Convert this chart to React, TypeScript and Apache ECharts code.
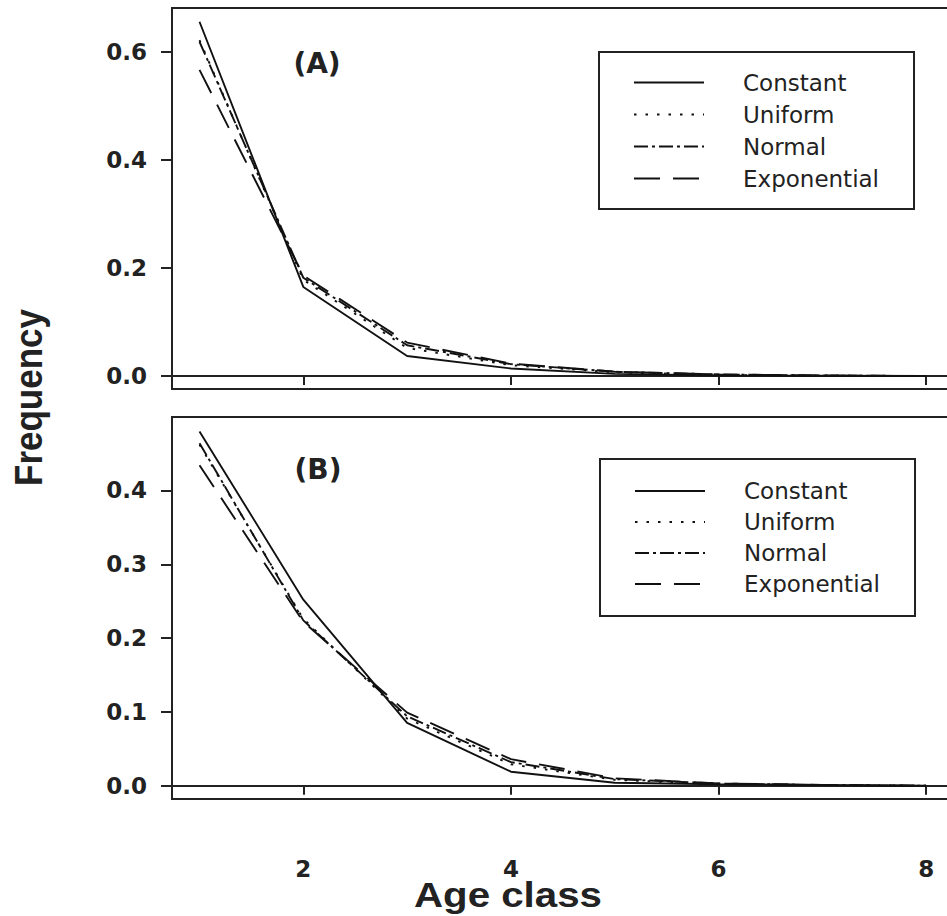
import React, { useEffect, useRef } from "react";
import * as echarts from "echarts";

const ages = [1, 2, 3, 4, 5, 6, 7, 8];
const seriesNames = ["Constant", "Uniform", "Normal", "Exponential"];

// Panel (A)
const aConstant = [0.656, 0.165, 0.037, 0.014, 0.004, 0.001, 0.0005, 0.0];
const aUniform = [0.622, 0.178, 0.052, 0.020, 0.007, 0.002, 0.001, 0.0];
const aNormal = [0.619, 0.182, 0.057, 0.022, 0.008, 0.003, 0.001, 0.0];
const aExponential = [0.567, 0.186, 0.062, 0.023, 0.008, 0.003, 0.001, 0.0];

// Panel (B)
const bConstant = [0.48, 0.252, 0.085, 0.019, 0.004, 0.002, 0.001, 0.0];
const bUniform = [0.462, 0.226, 0.091, 0.029, 0.008, 0.002, 0.001, 0.0];
const bNormal = [0.464, 0.224, 0.094, 0.032, 0.009, 0.003, 0.001, 0.0];
const bExponential = [0.434, 0.222, 0.099, 0.036, 0.010, 0.003, 0.001, 0.0];

const xTicks = [2, 4, 6, 8];
const aYTicks = [0, 0.2, 0.4, 0.6];
const bYTicks = [0, 0.1, 0.2, 0.3, 0.4];

const panelA = [aConstant, aUniform, aNormal, aExponential];
const panelB = [bConstant, bUniform, bNormal, bExponential];

const INK = "#222";
const dashes: any[] = ["solid", [2.5, 9], [14, 4, 3, 4], [26, 13]];

export default function App() {
  const ref = useRef<HTMLDivElement>(null);

  useEffect(() => {
    if (!ref.current) return;
    const chart = echarts.init(ref.current, undefined, { renderer: "svg" });

    const tickFont = {
      fontFamily: "DejaVu Sans",
      fontWeight: "bold" as const,
      fontSize: 23,
      color: INK,
    };

    const makeX = (gridIndex: number, showLabels: boolean) => ({
      type: "value",
      gridIndex,
      min: 0.735,
      max: 8.249,
      axisLine: { show: true, lineStyle: { color: INK, width: 2 } },
      axisTick: {
        show: true,
        length: 9,
        customValues: xTicks,
        lineStyle: { color: INK, width: 2 },
      },
      axisLabel: {
        show: showLabels,
        customValues: xTicks,
        margin: 58,
        verticalAlign: "top",
        lineHeight: 23,
        ...tickFont,
      },
      splitLine: { show: false },
    });

    const makeY = (gridIndex: number, min: number, max: number, ticks: number[]) => ({
      type: "value",
      gridIndex,
      min,
      max,
      axisLine: { show: true, lineStyle: { color: INK, width: 2 } },
      axisTick: {
        show: true,
        length: 11,
        customValues: ticks,
        lineStyle: { color: INK, width: 2 },
      },
      axisLabel: {
        show: true,
        customValues: ticks,
        margin: 25,
        formatter: (v: number) => v.toFixed(1),
        ...tickFont,
      },
      splitLine: { show: false },
    });

    const makeSeries = (panel: number[][], idx: number) =>
      panel.map((vals, i) => ({
        name: seriesNames[i],
        type: "line",
        xAxisIndex: idx,
        yAxisIndex: idx,
        symbol: "none",
        data: ages.map((a, k) => [a, vals[k]]),
        lineStyle: { color: "#111", width: 1.9, type: dashes[i] },
        itemStyle: { color: "#111" },
      }));

    const legendData = seriesNames.map((n, i) => ({
      name: n,
      lineStyle: { color: "#111", width: 2, type: dashes[i] },
    }));

    const makeLegend = (left: number, top: number, gap: number, padV: number) => ({
      orient: "vertical",
      left,
      top,
      data: legendData,
      itemWidth: 70,
      itemHeight: 24,
      itemGap: gap,
      padding: [padV, 35, padV, 34],
      borderColor: INK,
      borderWidth: 2,
      selectedMode: false,
      itemStyle: { opacity: 0 },
      textStyle: {
        fontFamily: "DejaVu Sans",
        fontSize: 23,
        lineHeight: 24,
        color: INK,
        padding: [0, 0, 0, 34],
      },
    });

    const gridBase = {
      show: true,
      borderColor: INK,
      borderWidth: 2,
      containLabel: false,
      outerBoundsMode: "none",
    };

    const option: any = {
      animation: false,
      backgroundColor: "#fff",
      grid: [
        { ...gridBase, left: 172, top: 8, width: 780, height: 381 },
        { ...gridBase, left: 172, top: 417, width: 780, height: 382 },
      ],
      xAxis: [makeX(0, false), makeX(1, true)],
      yAxis: [makeY(0, -0.024, 0.6815, aYTicks), makeY(1, -0.018, 0.4995, bYTicks)],
      legend: [makeLegend(599, 52, 8, 18.5), makeLegend(600, 459, 7, 20)],
      series: [...makeSeries(panelA, 0), ...makeSeries(panelB, 1)],
      graphic: [
        {
          type: "text",
          x: 317,
          y: 63,
          style: {
            text: "(A)",
            fontFamily: "DejaVu Sans",
            fontWeight: "bold",
            fontSize: 28,
            fill: INK,
            align: "center",
            verticalAlign: "middle",
          },
        },
        {
          type: "text",
          x: 318,
          y: 469.5,
          style: {
            text: "(B)",
            fontFamily: "DejaVu Sans",
            fontWeight: "bold",
            fontSize: 28,
            fill: INK,
            align: "center",
            verticalAlign: "middle",
          },
        },
        {
          type: "text",
          x: 28,
          y: 397.5,
          rotation: Math.PI / 2,
          scaleY: 1.12,
          style: {
            text: "Frequency",
            fontFamily: "Liberation Sans",
            fontWeight: "bold",
            fontSize: 35,
            fill: INK,
            align: "center",
            verticalAlign: "middle",
          },
        },
        {
          type: "text",
          x: 508,
          y: 895,
          scaleX: 1.15,
          style: {
            text: "Age class",
            fontFamily: "Liberation Sans",
            fontWeight: "bold",
            fontSize: 35,
            fill: INK,
            align: "center",
            verticalAlign: "middle",
          },
        },
      ],
    };

    chart.setOption(option);
    return () => chart.dispose();
  }, []);

  return (
    <div
      ref={ref}
      style={{ position: "fixed", left: 0, top: 0, width: 947, height: 916 }}
    />
  );
}
